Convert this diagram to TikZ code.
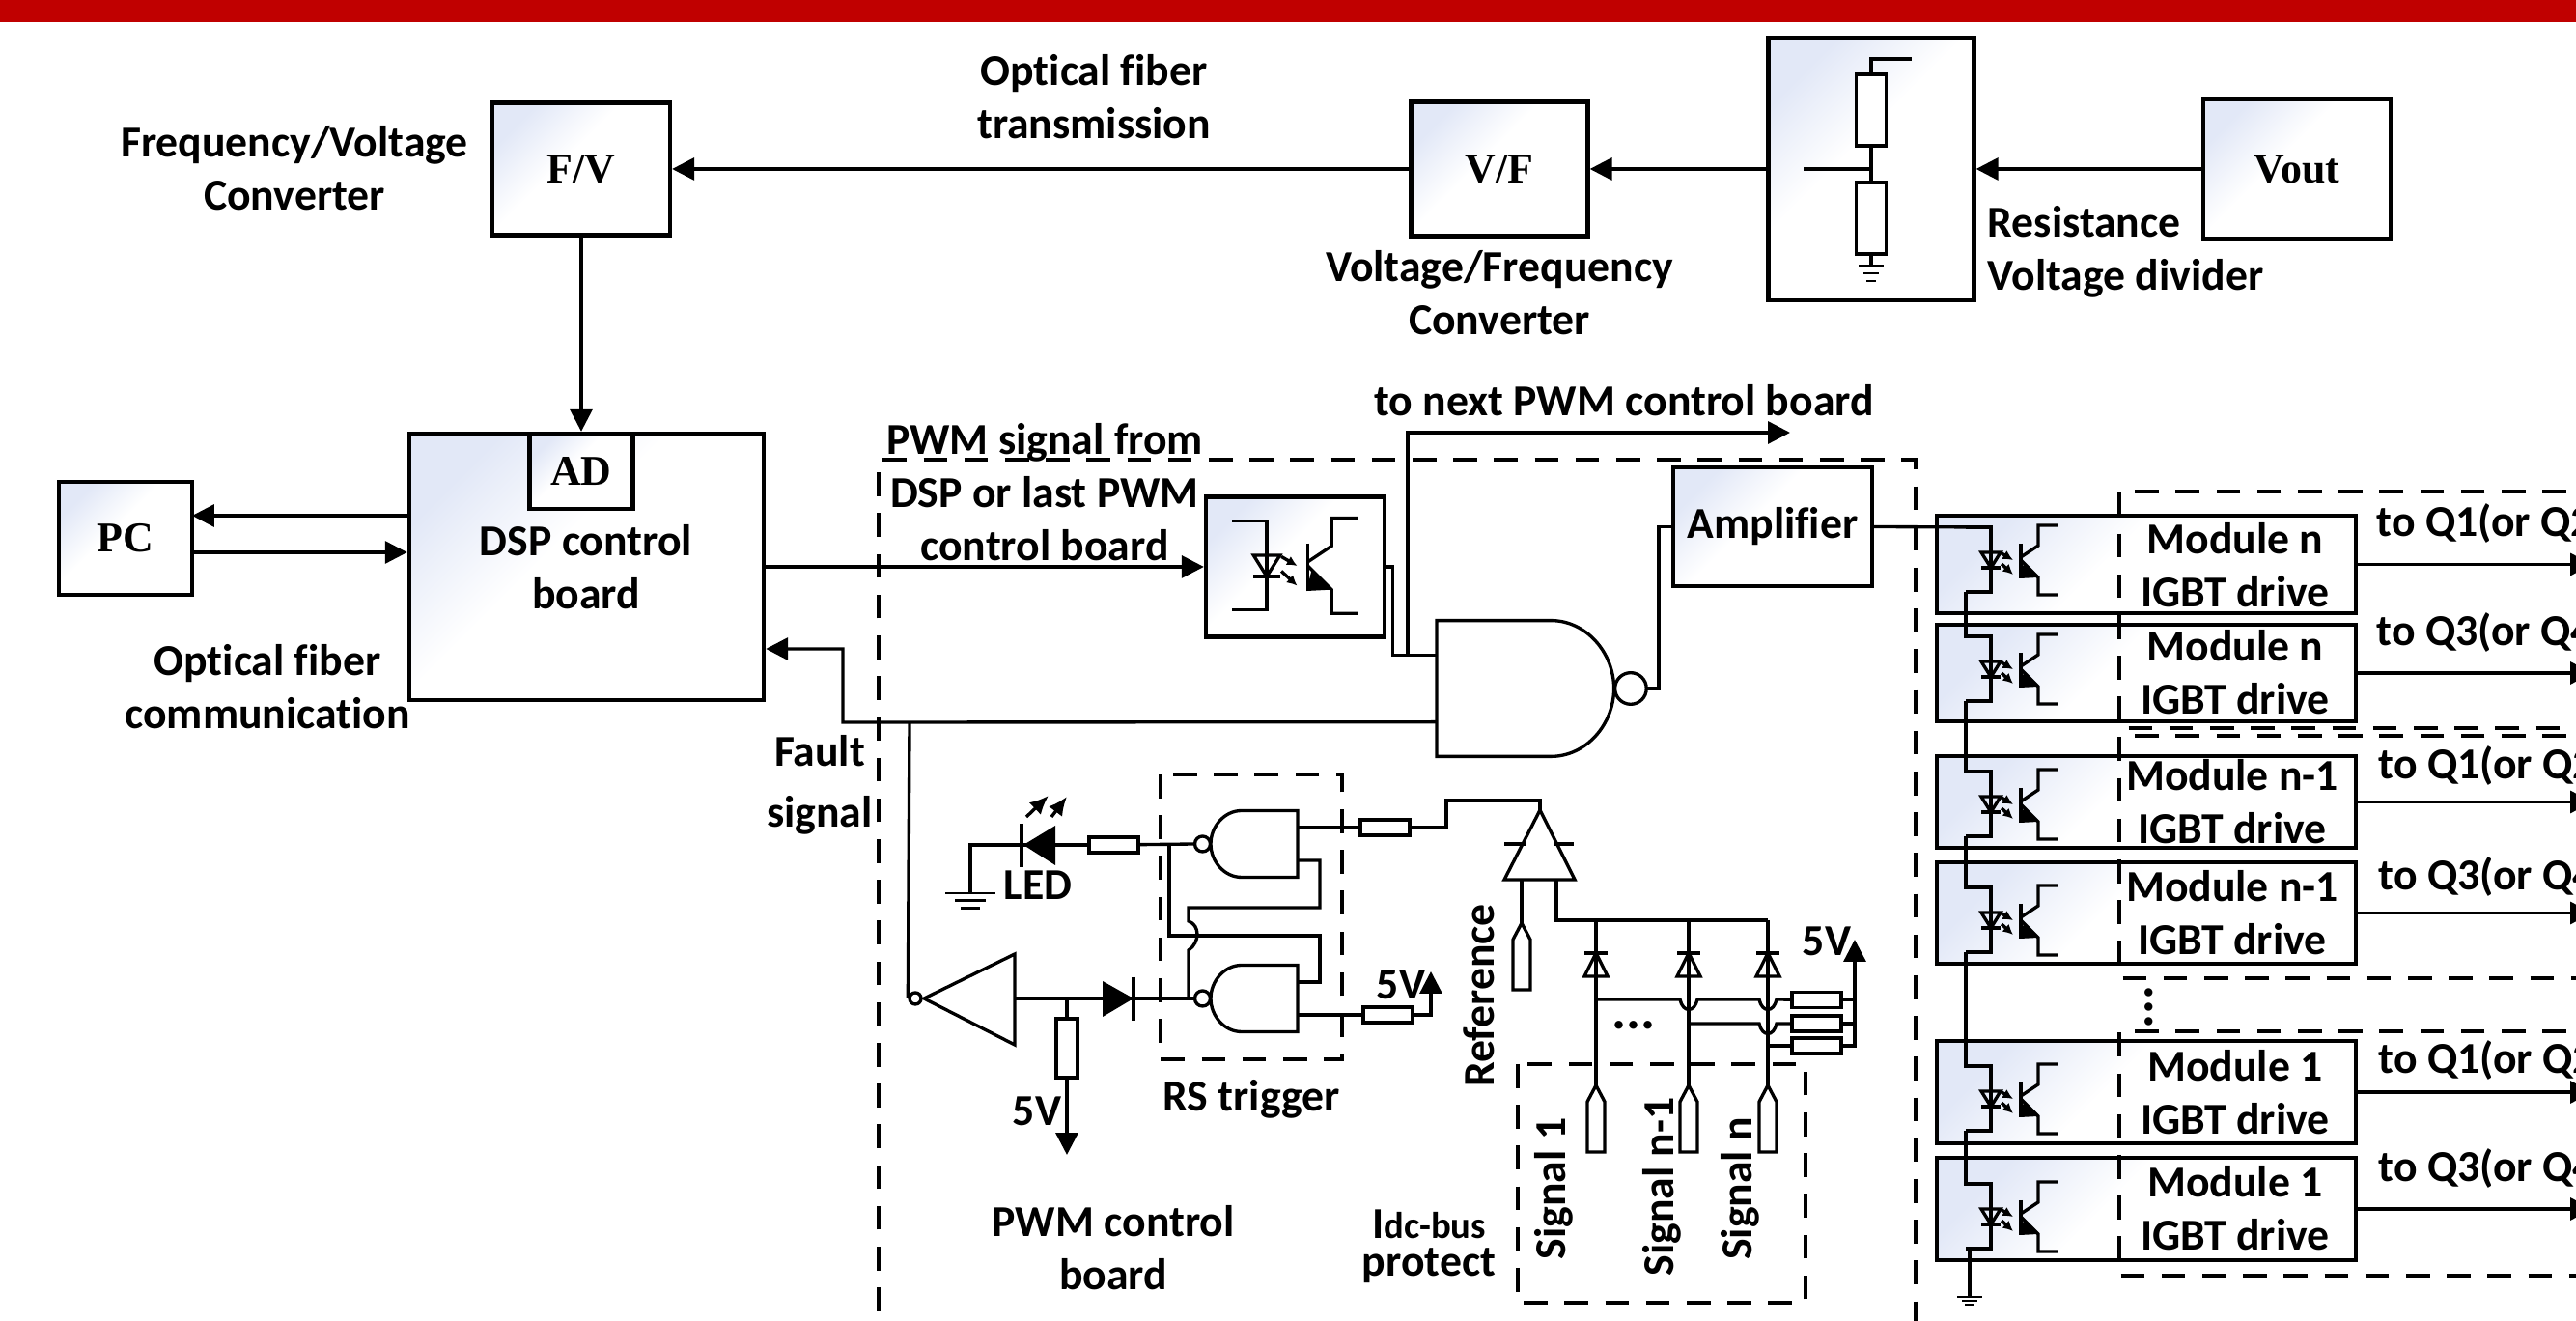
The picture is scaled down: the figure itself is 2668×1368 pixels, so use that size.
\documentclass[tikz,border=0pt]{standalone}
\usepackage{fontspec}
\setmainfont[RawFeature={-liga}]{Carlito}
\newfontfamily\blockfont{Liberation Serif}
\usetikzlibrary{arrows.meta,calc,positioning}
\definecolor{boxblue}{RGB}{226,232,247}
\definecolor{barred}{RGB}{192,0,0}
\pgfdeclareverticalshading{boxshade}{100bp}{color(0bp)=(white); color(56bp)=(white); color(75bp)=(boxblue); color(100bp)=(boxblue)}

\tikzset{
  nand/.pic={
    \draw[fill=white] (0,-34.5) -- (-58,-34.5) .. controls (-76,-34.5) and (-90,-18) .. (-90,0)
      .. controls (-90,18) and (-76,34.5) .. (-58,34.5) -- (0,34.5) -- cycle;
    \draw[fill=white] (-98.5,0) circle[radius=8];
    \coordinate (-a) at (0,-17);
    \coordinate (-b) at (0,17);
    \coordinate (-o) at (-106.5,0);
  },
  opto/.pic={
    \draw (-26,-34) -- (0,-34) -- (0,33) -- (-26,33);
    \draw (-10,-8) -- (10,-8) -- (0,8) -- cycle;
    \draw (-10,8) -- (10,8);
    \draw[-{Latex[length=3pt,width=3pt]}] (11,-7) -- (23,0);
    \draw[-{Latex[length=3pt,width=3pt]}] (11,4) -- (23,15);
    \draw (31,-17) -- (31,19);
    \draw (31,-3) -- (49,-15) -- (49,-36) -- (69,-36);
    \draw (31,0) -- (49,18) -- (49,36) -- (69,36);
    \fill (34,3) -- (49,18) -- (30,19) -- cycle;
    \coordinate (-t) at (0,-34);
    \coordinate (-b) at (-26,33);
  },
  earth/.pic={
    \draw[line width=.8pt] (-13,0) -- (13,0);
    \draw[line width=.8pt] (-8,4) -- (8,4);
    \draw[line width=.8pt] (-5,8) -- (5,8);
  },
  port/.pic={
    \draw (0,0) -- (9,17) -- (9,69) -- (-9,69) -- (-9,17) -- cycle;
    \coordinate (-t) at (0,0);
  },
  zener/.pic={
    \draw (-12,-12) -- (12,-12);
    \draw (0,-12) -- (12,12) -- (-12,12) -- cycle;
  }
}

\begin{document}
\begin{tikzpicture}[x=0.01cm,y=-0.01cm,line width=.95pt,
  block/.style={draw,line width=1.2pt,shading=boxshade,shading angle=45,inner sep=0,
    font=\blockfont\fontsize{12.5}{15}\selectfont\bfseries},
  res/.style={draw,fill=white,inner sep=0,minimum width=.51cm,minimum height=.16cm},
  lab/.style={font=\fontsize{13}{15.6}\selectfont\bfseries,align=center,inner sep=0},
  grp/.style={line width=1.2pt,dash pattern=on 7pt off 5pt},
  link/.style={-{Triangle[length=6.5pt,width=6.5pt]}}]
\path[clip,use as bounding box] (0,0) rectangle (2668,1368);
\fill[barred] (0,0) rectangle (2668,23);

% top row
\node[block,minimum width=1.84cm,minimum height=1.37cm] (FV) at (602,175) {F/V};
\node[block,minimum width=1.83cm,minimum height=1.39cm] (VF) at (1553,175) {V/F};
\node[block,minimum width=2.13cm,minimum height=2.72cm] (DIV) at (1938,175) {};
\node[block,minimum width=1.94cm,minimum height=1.45cm] (VOUT) at (2379,175) {Vout};
\draw[link] (VOUT) -- (DIV);
\draw[link] (DIV) -- (VF);
\draw[link] (VF) -- (FV);
\node[res,minimum width=.31cm,minimum height=.74cm] (R1) at (1938,114) {};
\node[res,minimum width=.31cm,minimum height=.74cm] (R2) at (1938,226) {};
\coordinate (dtop) at (1980,61);
\coordinate (dmid) at (1868,175);
\coordinate (dgnd) at (1938,275);
\draw (R1) |- (dtop);
\draw (R1) -- (R2);
\draw (dmid) -- (dmid -| R1);
\draw (R2) -- (dgnd);
\pic[yscale=2] at (dgnd) {earth};
\node[lab] (ofib) at (1133,100) {Optical fiber\\transmission};
\node[lab] (fvc) at (305,174) {Frequency/Voltage\\Converter};
\node[lab] (vfc) at (1553,303) {Voltage/Frequency\\Converter};
\node[lab,align=left,anchor=west] (rvd) at (2057,261) {Resistance\\Voltage divider};

% DSP and PC
\node[block,minimum width=3.67cm,minimum height=2.76cm] (DSP) at (607.5,587) {};
\node[block,minimum width=1.07cm,minimum height=.78cm] (AD) at (602,488) {AD};
\node[lab] (dsptxt) at (607,587) {DSP control\\board};
\node[block,minimum width=1.38cm,minimum height=1.17cm] (PC) at (130,557.5) {PC};
\coordinate (pcu) at (199,534);
\coordinate (pcd) at (199,572);
\draw[link] (pcu -| DSP.west) -- (pcu);
\draw[link] (pcd) -- (pcd -| DSP.west);
\draw[link] (FV) -- (AD);
\node[lab] (ofc) at (277,711) {Optical fiber\\communication};

% PWM control board
\draw[grp] (910,1400) -- (910,476) -- (1984,476) -- (1984,1400);
\node[lab] (pwmin) at (1082,510) {PWM signal from\\DSP or last PWM\\control board};
\node[block,minimum width=1.85cm,minimum height=1.45cm] (OPT) at (1341.5,587) {};
\pic[scale=1.37] (o0) at (1312,586) {opto};
\node[block,minimum width=2.06cm,minimum height=1.23cm,font=\fontsize{13}{15.6}\selectfont\bfseries] (AMP) at (1836,545.5) {Amplifier};
\pic[rotate=180,scale=2.04] (ND) at (1488,713) {nand};
\draw[link] (DSP) -- (OPT);
\coordinate (jn) at (1458,678);
\coordinate (nxt) at (1854,448);
\draw (OPT.east) -- ++(6,0) |- (ND-b);
\draw[link] (jn) |- (nxt);
\node[lab] (nxttxt) at (1682,415) {to next PWM control board};
\draw (ND-o) -| ($(AMP.west)+(-13,0)$) -- (AMP.west);
\coordinate (flt) at (873,748);
\coordinate (fltb) at (873,672);
\draw[link] (ND-a) -- (flt) |- (fltb -| DSP.east);
\node[lab] (flttxt) at (849,813) {Fault\\[2.4pt]signal};

% RS trigger
\draw[grp] (1202,802) rectangle (1390,1097);
\node[lab] (rstxt) at (1296,1138) {RS trigger};
\pic (G1) at (1344,874) {nand};
\pic (G2) at (1344,1034) {nand};
\node[res] (RLED) at (1153.5,875) {};
\node[res] (RT) at (1434.5,857) {};
\node[res] (RB) at (1437.5,1051) {};
\coordinate (ledk) at (1058,875);
\coordinate (gl) at (1005,925);
\coordinate (jr) at (1211,875);
\coordinate (wr) at (1367,969);
\coordinate (wt) at (1367,940);
\coordinate (bu1) at (1231,954);
\coordinate (bu2) at (1231,984);
\coordinate (jl) at (1231,1034);
\draw (G1-o) -- (RLED);
\draw (RLED) -- (ledk);
\draw (ledk) -| (gl);
\pic[xscale=2,yscale=1.9] at (gl) {earth};
\fill (1060,875) -- (1093,855) -- (1093,896) -- cycle;
\draw (1058,853) -- (1058,898);
\draw[-{Latex[length=5.5pt,width=5pt]}] (1063,846) -- (1086,824);
\draw[-{Latex[length=5.5pt,width=5pt]}] (1089,846) -- (1105,825);
\node[lab] (ledtxt) at (1075,917) {LED};
\draw (jr) |- (wr) |- (G2-a);
\draw (G1-b) -| (wt) -| (bu1) .. controls +(12,4) and +(12,-8) .. (bu2) -- (jl);
\draw (G1-a) -- (RT);
\draw (G2-b) -- (RB);

% fault buffer
\node[draw,circle,inner sep=0,minimum size=.12cm] (BB) at (948,1034) {};
\coordinate (jf) at (942,748);
\draw (jf) -- (BB.west);
\draw (957,1034) -- (1051,988) -- (1051,1082) -- cycle;
\coordinate (bufo) at (1051,1034);
\draw (bufo) -- (G2-o);
\fill (1174,1034) -- (1142,1016) -- (1142,1053) -- cycle;
\draw (1174,1012) -- (1174,1057);
\coordinate (jb) at (1105,1034);
\node[res,minimum width=.22cm,minimum height=.61cm] (RF) at (1105,1085.5) {};
\coordinate (v5a) at (1105,1196);
\draw (jb) -- (RF);
\draw[link] (RF) -- (v5a);
\node[lab] (v5atxt) at (1074,1151) {5V};
\coordinate (v5b) at (1482,1006);
\draw[link] (RB.east) -| (v5b);
\node[lab] (v5btxt) at (1451,1020) {5V};
\node[lab] (pwmtxt) at (1153,1292) {PWM control\\board};

% comparator and Idc-bus protect
\coordinate (wc) at (1498,829);
\coordinate (ca) at (1595,839);
\draw (RT.east) -| (wc) -| (ca);
\draw (ca) -- (1558,911) -- (1631,911) -- cycle;
\draw (1558,874) -- (1580,874);
\draw (1609,874) -- (1630,874);
\coordinate (cn) at (1576,911);
\coordinate (cp) at (1612,911);
\pic (PR) at (1576,956) {port};
\draw (cn) -- (PR-t);
\node[lab,rotate=90] (reftxt) at (1532,1031) {Reference};
\coordinate (rs1) at (1653,953);
\coordinate (rs2) at (1749,953);
\coordinate (rs3) at (1831,953);
\draw (cp) |- (rs3);
\pic (P1) at (1653,1124) {port};
\pic (P2) at (1749,1124) {port};
\pic (P3) at (1831,1124) {port};
\draw (rs1) -- (P1-t);
\draw (rs2) -- (P2-t);
\draw (rs3) -- (P3-t);
\pic at (1653,999) {zener};
\pic at (1749,999) {zener};
\pic at (1831,999) {zener};
\node[res] (RA1) at (1881.5,1035.5) {};
\node[res] (RA2) at (1881.5,1060) {};
\node[res] (RA3) at (1881.5,1083) {};
\coordinate (ja1) at (1653,1035);
\coordinate (ja2) at (1749,1060);
\coordinate (ja3) at (1831,1083);
\coordinate (vcc) at (1921,973);
\draw (ja1) -- (1740,1035) .. controls +(3,14) and +(-3,14) .. (1758,1035) -- (1822,1035)
  .. controls +(3,14) and +(-3,14) .. (1840,1035) -- (RA1);
\draw (ja2) -- (1822,1060) .. controls +(3,14) and +(-3,14) .. (1840,1060) -- (RA2);
\draw (ja3) -- (RA3);
\draw[link] (RA3.east) -| (vcc);
\draw (RA1.east) -- (RA1.east -| vcc);
\draw (RA2.east) -- (RA2.east -| vcc);
\node[lab] (v5ctxt) at (1892,975) {5V};
\node[lab,font=\fontsize{16}{16}\selectfont\bfseries] (dots) at (1692,1062) {...};
\draw[grp] (1572,1102) rectangle (1870,1349);
\node[lab,rotate=90] (s1txt) at (1609,1231) {Signal 1};
\node[lab,rotate=90] (s2txt) at (1721,1229) {Signal n-1};
\node[lab,rotate=90] (s3txt) at (1802,1231) {Signal n};
\node[lab,font=\fontsize{11}{15.6}\selectfont\bfseries] (idc) at (1480,1291) {{\fontsize{13}{15.6}\selectfont I}dc-bus\\[-4.5pt]{\fontsize{13}{15.6}\selectfont protect}};

% drive modules
\node[block,minimum width=4.34cm,minimum height=1.01cm] (M1) at (2223,584.5) {};
\node[block,minimum width=4.34cm,minimum height=1.00cm] (M2) at (2223,697) {};
\node[block,minimum width=4.34cm,minimum height=.95cm] (M3) at (2223,830.5) {};
\node[block,minimum width=4.34cm,minimum height=1.05cm] (M4) at (2223,945.5) {};
\node[block,minimum width=4.34cm,minimum height=1.06cm] (M5) at (2223,1131) {};
\node[block,minimum width=4.34cm,minimum height=1.06cm] (M6) at (2223,1252) {};
\pic (O1) at (2062,580) {opto};
\pic (O2) at (2062,693) {opto};
\pic (O3) at (2062,833) {opto};
\pic (O4) at (2062,953) {opto};
\pic (O5) at (2062,1138) {opto};
\pic (O6) at (2062,1260) {opto};
\draw (AMP.east) -- (O1-t);
\draw (O1-b) |- (O2-t);
\draw (O2-b) |- (O3-t);
\draw (O3-b) |- (O4-t);
\draw (O4-b) |- (O5-t);
\draw (O5-b) |- (O6-t);
\coordinate (gm) at (2040,1343);
\draw (O6-b) -| (gm);
\pic at (gm) {earth};
\draw[grp] (2700,509) -- (2195,509) -- (2195,754) -- (2700,754);
\draw[grp] (2700,762) -- (2195,762) -- (2195,1013) -- (2700,1013);
\draw[grp] (2700,1068) -- (2195,1068) -- (2195,1321) -- (2700,1321);
\node[lab] (t1) at (2315,585) {Module n\\IGBT drive};
\node[lab] (t2) at (2315,696) {Module n\\IGBT drive};
\node[lab] (t3) at (2312,830) {Module n-1\\IGBT drive};
\node[lab] (t4) at (2312,945) {Module n-1\\IGBT drive};
\node[lab] (t5) at (2315,1131) {Module 1\\IGBT drive};
\node[lab] (t6) at (2315,1251) {Module 1\\IGBT drive};
\node[lab,rotate=90,font=\fontsize{16}{16}\selectfont\bfseries] (vdots) at (2226,1043) {...};
\coordinate (q1) at (2685,0);
\draw[link] (M1) -- (M1 -| q1);
\draw[link] (M2) -- (M2 -| q1);
\draw[link] (M3) -- (M3 -| q1);
\draw[link] (M4) -- (M4 -| q1);
\draw[link] (M5) -- (M5 -| q1);
\draw[link] (M6) -- (M6 -| q1);
\node[lab,anchor=west] (q1t) at (2460,542) {to Q1(or Q2)};
\node[lab,anchor=west] (q2t) at (2460,655) {to Q3(or Q4)};
\node[lab,anchor=west] (q3t) at (2462,793) {to Q1(or Q2)};
\node[lab,anchor=west] (q4t) at (2462,908) {to Q3(or Q4)};
\node[lab,anchor=west] (q5t) at (2462,1098) {to Q1(or Q2)};
\node[lab,anchor=west] (q6t) at (2462,1210) {to Q3(or Q4)};
\end{tikzpicture}
\end{document}
